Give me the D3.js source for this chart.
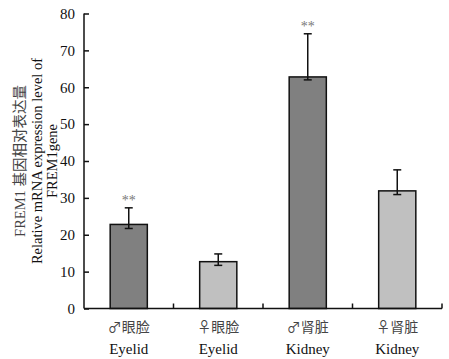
<!DOCTYPE html>
<html>
<head>
<meta charset="utf-8">
<script src="https://cdn.jsdelivr.net/npm/d3@7"></script>
<style>
  body { margin: 0; background: #fff; }
</style>
</head>
<body>
<svg id="chart" width="449" height="359"></svg>
<script>
// data
var sexLabels = ["\u2642\u773c\u8138", "\u2640\u773c\u8138", "\u2642\u80be\u810f", "\u2640\u80be\u810f"];
var tissueLabels = ["Eyelid", "Eyelid", "Kidney", "Kidney"];
var values = [22.8, 12.7, 62.8, 31.9];
var errLow = [21.7, 11.7, 62.0, 30.9];
var errHigh = [27.3, 14.8, 74.5, 37.6];
var stars = ["**", "", "**", ""];
var fills = ["#808080", "#c0c0c0", "#808080", "#c0c0c0"];
var yTicks = [0, 10, 20, 30, 40, 50, 60, 70, 80];
var yTitle = ["FREM1 \u57fa\u56e0\u76f8\u5bf9\u8868\u8fbe\u91cf", "Relative mRNA expression level of", "FREM1gene"];

var SERIF = "'Liberation Serif', 'Times New Roman', 'DejaVu Serif', serif";
var CJK = "'Liberation Serif', 'Noto Sans CJK SC', sans-serif";

var svg = d3.select("#chart");
var margin = { left: 84, top: 13.5, right: 7, bottom: 50.5 };
var width = 449 - margin.left - margin.right;
var height = 359 - margin.top - margin.bottom;

var g = svg.append("g").attr("transform", "translate(" + margin.left + "," + margin.top + ")");

var idx = d3.range(values.length);
var x = d3.scaleBand().domain(idx).range([0, width]).paddingInner(0.585).paddingOuter(0.2925);
var band = d3.scaleBand().domain(idx).range([0, width]);
var y = d3.scaleLinear().domain([0, 80]).range([height, 0]);

// bars
g.selectAll("rect.bar").data(idx).enter().append("rect")
    .attr("class", "bar")
    .attr("x", function (i) { return x(i); })
    .attr("y", function (i) { return y(values[i]); })
    .attr("width", x.bandwidth())
    .attr("height", function (i) { return y(0) - y(values[i]); })
    .attr("fill", function (i) { return fills[i]; })
    .attr("stroke", "#111")
    .attr("stroke-width", 1.5);

// error bars
var cap = 4;
idx.forEach(function (i) {
    var cx = x(i) + x.bandwidth() / 2;
    var eg = g.append("g").attr("stroke", "#111").attr("stroke-width", 1.5);
    eg.append("line").attr("x1", cx).attr("x2", cx).attr("y1", y(errLow[i])).attr("y2", y(errHigh[i]));
    eg.append("line").attr("x1", cx - cap).attr("x2", cx + cap).attr("y1", y(errLow[i])).attr("y2", y(errLow[i]));
    eg.append("line").attr("x1", cx - cap).attr("x2", cx + cap).attr("y1", y(errHigh[i])).attr("y2", y(errHigh[i]));
    if (stars[i]) {
        g.append("text").attr("x", cx).attr("y", y(errHigh[i]) - 3)
            .attr("text-anchor", "middle").attr("font-size", 14).attr("fill", "#777")
            .attr("font-family", SERIF)
            .text(stars[i]);
    }
});

// y axis
var yAxis = g.append("g").call(d3.axisLeft(y).tickValues(yTicks).tickSize(-5).tickPadding(9));
yAxis.attr("font-family", SERIF);
yAxis.selectAll("path, line").attr("stroke", "#111").attr("stroke-width", 1.5);
yAxis.select(".domain").attr("d", "M0," + y(80) + "V" + y(0));
yAxis.selectAll("text").attr("font-size", 15).attr("fill", "#111")
    .attr("font-family", SERIF);

// x axis with ticks at category boundaries
var xAxisG = g.append("g").attr("transform", "translate(0," + height + ")");
xAxisG.append("line").attr("x1", 0).attr("x2", width).attr("y1", 0).attr("y2", 0)
    .attr("stroke", "#111").attr("stroke-width", 1.5);
idx.forEach(function (i) {
    var bx = band(i) + band.bandwidth();
    xAxisG.append("line").attr("x1", bx).attr("x2", bx).attr("y1", 0).attr("y2", -5)
        .attr("stroke", "#111").attr("stroke-width", 1.5);
    var cx = x(i) + x.bandwidth() / 2;
    xAxisG.append("text").attr("x", cx).attr("y", 23).attr("text-anchor", "middle")
        .attr("font-size", 14).attr("fill", "#444")
        .attr("font-family", "'Noto Sans CJK SC', sans-serif")
        .text(sexLabels[i]);
    xAxisG.append("text").attr("x", cx).attr("y", 45).attr("text-anchor", "middle")
        .attr("font-size", 15).attr("fill", "#111")
        .attr("font-family", SERIF)
        .text(tissueLabels[i]);
});

// y axis title, three rotated lines
var ty = svg.append("g").attr("transform", "translate(0,161) rotate(-90)");
var titleX = [25, 42, 57];
yTitle.forEach(function (t, k) {
    ty.append("text").attr("x", 0).attr("y", titleX[k]).attr("text-anchor", "middle")
        .attr("font-size", 14.5).attr("fill", k === 0 ? "#444" : "#111")
        .attr("font-family", k === 0 ? CJK : SERIF)
        .text(t);
});
</script>
</body>
</html>
